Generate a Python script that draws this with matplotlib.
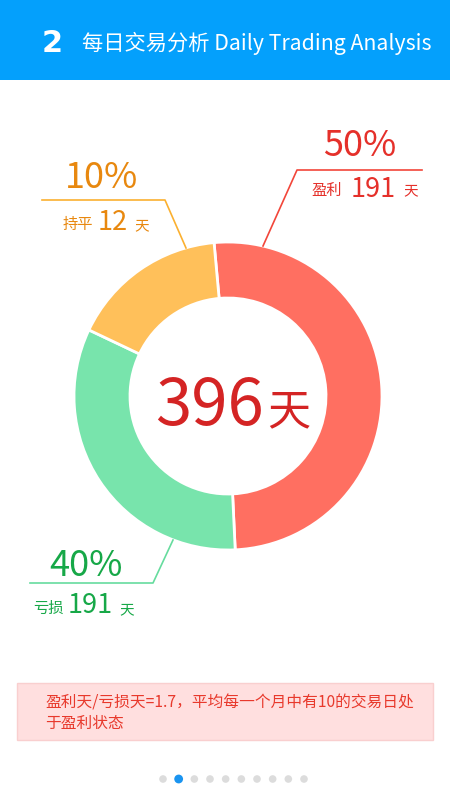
import numpy as np
import matplotlib
matplotlib.use("Agg")
import matplotlib.pyplot as plt
from matplotlib.patches import Rectangle, Circle

plt.rcParams['font.family'] = ['Noto Sans CJK SC', 'DejaVu Sans']

# ---- data ----
categories = ['盈利', '亏损', '持平']
slice_shares = [50.7, 32.8, 16.5]          # arc sizes as drawn
pct_labels = ['50%', '40%', '10%']
day_counts = [191, 191, 12]
total_days = 396
slice_colors = ['#FF6F61', '#78E4AC', '#FFC05A']
text_colors = ['#E5302A', '#17A848', '#E8880F']
line_colors = ['#F2463A', '#66DC9E', '#FBB030']
title_num = '2'
title_text = '每日交易分析 Daily Trading Analysis'
note_lines = ['盈利天/亏损天=1.7，平均每一个月中有10的交易日处', '于盈利状态']
n_pages = 10
active_page = 1

W, H = 450, 800
fig = plt.figure(figsize=(4.5, 8), dpi=100)

bg = fig.add_axes([0, 0, 1, 1])
bg.set_xlim(0, W); bg.set_ylim(H, 0); bg.axis('off')

# header
bg.add_patch(Rectangle((0, 0), W, 80, color='#04A0FC', lw=0))
bg.text(52, 43, title_num, color='white', fontsize=22, fontweight='bold',
        ha='center', va='center', family=['DejaVu Sans'])
bg.text(82, 43, title_text, color='white', fontsize=15.3, ha='left', va='center')

# donut
cx, cy, R, r_in = 228, 396, 154, 98
pax = fig.add_axes([(cx - R) / W, (H - cy - R) / H, 2 * R / W, 2 * R / H])
pax.pie(slice_shares, colors=slice_colors, startangle=95.2, counterclock=False,
        radius=1, wedgeprops=dict(width=(R - r_in) / R, edgecolor='white', linewidth=2))
pax.set_xlim(-1, 1); pax.set_ylim(-1, 1); pax.axis('off')

ov = fig.add_axes([0, 0, 1, 1])
ov.set_xlim(0, W); ov.set_ylim(H, 0); ov.axis('off'); ov.patch.set_alpha(0)

# center text
ov.text(209, 425, str(total_days), color='#D42424', fontsize=47, ha='center', va='baseline')
ov.text(289, 412, '天', color='#D42424', fontsize=31, ha='center', va='center')

# leader lines
ov.plot([263, 297, 422], [246, 170, 170], color=line_colors[0], lw=1.2)
ov.plot([186, 165, 42], [248, 200, 200], color=line_colors[2], lw=1.2)
ov.plot([173, 153, 30], [540, 583, 583], color=line_colors[1], lw=1.2)

# labels: profit (red)
ov.text(360, 156, pct_labels[0], color=text_colors[0], fontsize=26, ha='center', va='baseline')
ov.text(327, 190, categories[0], color=text_colors[0], fontsize=11, ha='center', va='center')
ov.text(373, 197, str(day_counts[0]), color=text_colors[0], fontsize=19.5, ha='center', va='baseline')
ov.text(411, 191, '天', color=text_colors[0], fontsize=10.5, ha='center', va='center')

# flat (orange)
ov.text(102, 188, pct_labels[2], color=text_colors[2], fontsize=26, ha='center', va='baseline')
ov.text(78, 225, categories[2], color=text_colors[2], fontsize=11, ha='center', va='center')
ov.text(113, 230, str(day_counts[2]), color=text_colors[2], fontsize=19.5, ha='center', va='baseline')
ov.text(142, 226, '天', color=text_colors[2], fontsize=10.5, ha='center', va='center')

# loss (green)
ov.text(86, 576, pct_labels[1], color=text_colors[1], fontsize=26, ha='center', va='baseline')
ov.text(48, 608, categories[1], color=text_colors[1], fontsize=11, ha='center', va='center')
ov.text(90, 613, str(day_counts[1]), color=text_colors[1], fontsize=19.5, ha='center', va='baseline')
ov.text(127, 610, '天', color=text_colors[1], fontsize=10.5, ha='center', va='center')

# note box
ov.add_patch(Rectangle((17, 683), 416, 57, facecolor='#FFDFDF', edgecolor='#F9CFCF', lw=1))
ov.text(45, 703, note_lines[0], color='#E8392C', fontsize=11.3, ha='left', va='center')
ov.text(45, 723, note_lines[1], color='#E8392C', fontsize=11.3, ha='left', va='center')

# page dots
xs = np.linspace(163, 304, n_pages)
for i, x in enumerate(xs):
    if i == active_page:
        ov.add_patch(Circle((x, 779), 4.4, color='#1A94F0', lw=0))
    else:
        ov.add_patch(Circle((x, 779), 3.8, color='#DCDCDC', lw=0))

fig.savefig('out.png', dpi=100)
